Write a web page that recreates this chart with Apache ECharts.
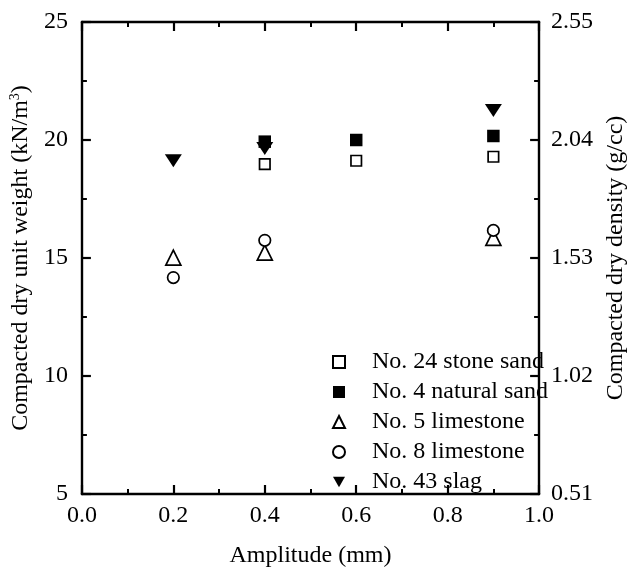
<!DOCTYPE html>
<html>
<head>
<meta charset="utf-8">
<script src="https://cdn.jsdelivr.net/npm/echarts@6/dist/echarts.min.js"></script>
<style>
html,body{margin:0;padding:0;background:#fff;}
#c{width:636px;height:573px;}
</style>
</head>
<body>
<div id="c"></div>
<script>
var seriesNames = ['No. 24 stone sand', 'No. 4 natural sand', 'No. 5 limestone', 'No. 8 limestone', 'No. 43 slag'];
var stoneSand = [[0.4, 18.98], [0.6, 19.12], [0.9, 19.29]];
var naturalSand = [[0.4, 19.93], [0.6, 20.0], [0.9, 20.17]];
var limestone5 = [[0.2, 15.02], [0.4, 15.23], [0.9, 15.85]];
var limestone8 = [[0.2, 14.17], [0.4, 15.75], [0.9, 16.17]];
var slag = [[0.2, 19.12], [0.4, 19.64], [0.9, 21.25]];
var leftTicks = [5, 10, 15, 20, 25];
var rightTicks = [0.51, 1.02, 1.53, 2.04, 2.55];

var FONT = '"Liberation Serif", "Times New Roman", serif';
var chart = echarts.init(document.getElementById('c'), null, {renderer: 'canvas'});
var axisLineStyle = {color: '#000', width: 2.4};
function baseAxis() {
  return {
    axisLine: {show: true, onZero: false, lineStyle: axisLineStyle},
    axisTick: {show: true, inside: true, length: 9, lineStyle: {color: '#000', width: 2.2}},
    minorTick: {show: true, splitNumber: 2, length: 5, lineStyle: {color: '#000', width: 2}},
    splitLine: {show: false},
    minorSplitLine: {show: false},
    axisLabel: {color: '#000', fontFamily: FONT, fontSize: 24, margin: 12},
    nameTextStyle: {color: '#000', fontFamily: FONT, fontSize: 24}
  };
}
var xBottom = Object.assign(baseAxis(), {
  type: 'value', position: 'bottom', min: 0, max: 1, interval: 0.2,
  name: 'Amplitude (mm)', nameLocation: 'middle', nameGap: 50
});
xBottom.axisLabel = Object.assign({}, xBottom.axisLabel, {formatter: function (v) { return v.toFixed(1); }, margin: 10});
var xTop = Object.assign(baseAxis(), {type: 'value', position: 'top', min: 0, max: 1, interval: 0.2});
xTop.axisLabel = {show: false};

var yLeft = Object.assign(baseAxis(), {
  type: 'value', position: 'left', min: leftTicks[0], max: leftTicks[leftTicks.length - 1], interval: 5,
  name: '{n|Compacted dry unit weight (kN/m}{s|3}{n|)}', nameLocation: 'middle', nameRotate: 90, nameGap: 41
});
yLeft.axisLabel = Object.assign({}, yLeft.axisLabel, {margin: 14});
yLeft.nameTextStyle = {color: '#000', fontFamily: FONT, fontSize: 24,
  rich: {n: {fontFamily: FONT, fontSize: 24, color: '#000', lineHeight: 26},
         s: {fontFamily: FONT, fontSize: 14, color: '#000', verticalAlign: 'top', lineHeight: 26, padding: [0, 0, 10, 0]}}};
var yRight = Object.assign(baseAxis(), {
  type: 'value', position: 'right', min: rightTicks[0], max: rightTicks[rightTicks.length - 1], interval: 0.51,
  name: 'Compacted dry density (g/cc)', nameLocation: 'middle', nameRotate: 90, nameGap: 62
});
yRight.axisLabel = Object.assign({}, yRight.axisLabel, {formatter: function (v) { return v.toFixed(2); }});

var downTri = 'path://M0,0L20,0L10,17.3Z';
function mk(name, data, symbol, size, filled) {
  return {
    name: name, type: 'scatter', data: data, xAxisIndex: 0, yAxisIndex: 0,
    symbol: symbol, symbolSize: size,
    itemStyle: {color: filled ? '#000' : '#fff', borderColor: '#000', borderWidth: filled ? 0 : 1.7, opacity: 1},
    emphasis: {disabled: true}
  };
}
var option = {
  backgroundColor: '#fff',
  animation: false,
  grid: {left: 77, right: 87, top: 22, bottom: 76, containLabel: false},
  xAxis: [xBottom, xTop],
  yAxis: [yLeft, yRight],
  legend: {
    orient: 'vertical', left: 327, top: 345,
    itemWidth: 12, itemHeight: 12, itemGap: 6,
    textStyle: {color: '#000', fontFamily: FONT, fontSize: 24, lineHeight: 24, padding: [0, 0, 0, 22]},
    data: seriesNames
  },
  series: [
    mk(seriesNames[0], stoneSand, 'rect', 10.5, false),
    mk(seriesNames[1], naturalSand, 'rect', 12.5, true),
    mk(seriesNames[2], limestone5, 'triangle', 15, false),
    mk(seriesNames[3], limestone8, 'circle', 11.5, false),
    Object.assign(mk(seriesNames[4], slag, downTri, [17, 15], true), {symbolKeepAspect: true})
  ]
};
chart.setOption(option);
</script>
</body>
</html>
